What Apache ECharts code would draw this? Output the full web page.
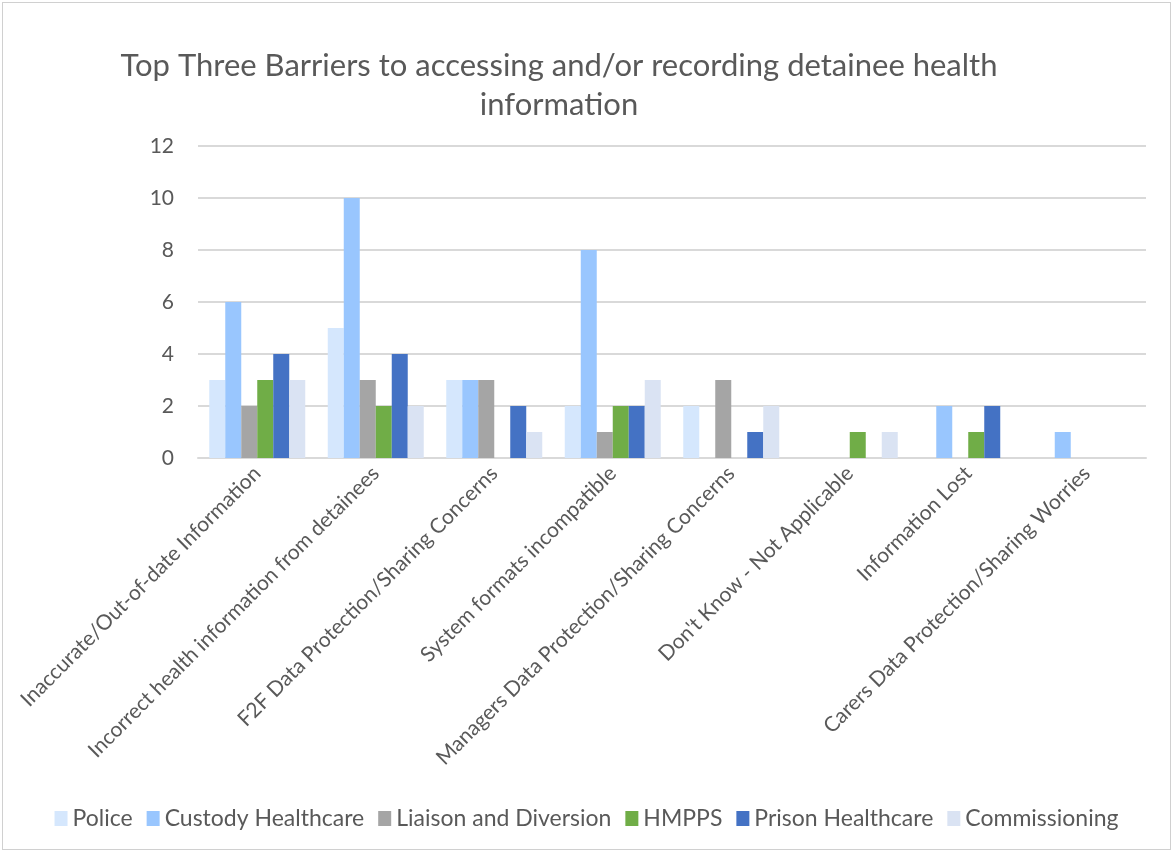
<!DOCTYPE html>
<html><head><meta charset="utf-8">
<script src="https://cdn.jsdelivr.net/npm/echarts@6/dist/echarts.min.js"></script>
<style>html,body{margin:0;padding:0;background:#fff}#c{position:absolute;left:2px;top:2px;width:1167px;height:846px;border:1px solid #d0d0d0;}</style>
</head><body><div id="c"></div>
<script>
const categories = ["Inaccurate/Out-of-date Information","Incorrect health information from detainees","F2F Data Protection/Sharing Concerns","System formats incompatible","Managers Data Protection/Sharing Concerns","Don't Know - Not Applicable","Information Lost","Carers Data Protection/Sharing Worries"];
const seriesNames = ["Police","Custody Healthcare","Liaison and Diversion","HMPPS","Prison Healthcare","Commissioning"];
const police = [3,5,3,2,2,0,0,0];
const custody = [6,10,3,8,0,0,2,1];
const liaison = [2,3,3,1,3,0,0,0];
const hmpps = [3,2,0,2,0,1,1,0];
const prison = [4,4,2,2,1,0,2,0];
const commissioning = [3,2,1,3,2,1,0,0];
const yTicks = [0,2,4,6,8,10,12];
const colors = ["#D5E7FD","#99C6FE","#A5A5A5","#70AD47","#4472C4","#DAE3F3"];
const values = [police,custody,liaison,hmpps,prison,commissioning];
const font = "Lato, 'Open Sans', sans-serif";
const chart = echarts.init(document.getElementById('c'));
chart.setOption({
  animation:false,
  textStyle:{fontFamily:font},
  title:{text:"Top Three Barriers to accessing and/or recording detainee health\ninformation",left:551,top:38,textAlign:'center',
    textStyle:{fontFamily:font,fontSize:31,fontWeight:'normal',color:'#595959',lineHeight:39}},
  legend:{bottom:14,left:'center',itemWidth:13,itemHeight:15,itemGap:14,icon:'rect',
    textStyle:{fontFamily:font,fontSize:23,color:'#595959',padding:[0,0,0,0]},data:seriesNames},
  grid:{left:195,right:24,top:143,bottom:391},
  xAxis:{type:'category',data:categories,
    axisLine:{lineStyle:{color:'#d9d9d9',width:2}},axisTick:{show:false},
    axisLabel:{rotate:45,interval:0,fontFamily:font,fontSize:21,color:'#595959',margin:12}},
  yAxis:{type:'value',min:yTicks[0],max:yTicks[yTicks.length-1],interval:2,
    axisLine:{show:false},axisTick:{show:false},
    splitLine:{lineStyle:{color:'#d9d9d9',width:2}},
    axisLabel:{fontFamily:font,fontSize:21,color:'#595959',margin:24}},
  series:seriesNames.map((n,i)=>({name:n,type:'bar',data:values[i],barGap:'0%',barCategoryGap:'19%',
    itemStyle:{color:colors[i],borderWidth:0}}))
});
</script></body></html>
